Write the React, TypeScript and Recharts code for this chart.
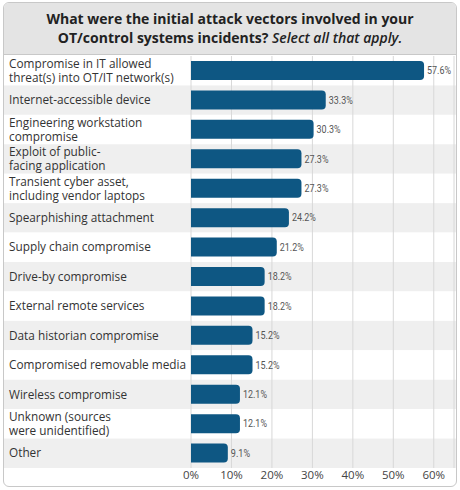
import { BarChart, Bar, XAxis, YAxis, CartesianGrid, ReferenceArea, LabelList } from "recharts";

const vectors = [
  "Compromise in IT allowed\nthreat(s) into OT/IT network(s)",
  "Internet-accessible device",
  "Engineering workstation\ncompromise",
  "Exploit of public-\nfacing application",
  "Transient cyber asset,\nincluding vendor laptops",
  "Spearphishing attachment",
  "Supply chain compromise",
  "Drive-by compromise",
  "External remote services",
  "Data historian compromise",
  "Compromised removable media",
  "Wireless compromise",
  "Unknown (sources\nwere unidentified)",
  "Other",
];
const shares = [57.6, 33.3, 30.3, 27.3, 27.3, 24.2, 21.2, 18.2, 18.2, 15.2, 15.2, 12.1, 12.1, 9.1];
const xTicks = [0, 10, 20, 30, 40, 50, 60];

const data = vectors.map((name, i) => ({ name, value: shares[i] }));

const CHART_W = 452;
const LABEL_FONT = "'Open Sans', 'Noto Sans', sans-serif";

const VectorTick = (props: any) => {
  const { y, payload } = props;
  const lines = String(payload.value).split("\n");
  const start = -((lines.length - 1) * 14) / 2;
  return (
    <text x={5} y={y} textAnchor="start" fontFamily={LABEL_FONT} fontSize={11.8} fill="#333">
      {lines.map((l, i) => (
        <tspan key={i} x={5} y={y + start + i * 14} dy="0.35em">
          {l}
        </tspan>
      ))}
    </text>
  );
};

// condensed-looking value label
const ValueLabel = (props: any) => {
  const { x, y, width, height, value } = props;
  const txt = `${Number(value).toFixed(1)}%`;
  return (
    <text
      x={x + width + 3}
      y={y + height / 2}
      dy="0.35em"
      fontFamily="'Roboto', sans-serif"
      fontSize={11}
      fill="#555"
      textLength={txt.length * 4.8}
      lengthAdjust="spacingAndGlyphs"
    >
      {txt}
    </text>
  );
};

export default function App() {
  return (
    <div
      style={{
        position: "absolute",
        left: 3,
        top: 2,
        width: 454,
        height: 485,
        boxSizing: "border-box",
        border: "1px solid #c8c8c8",
        borderRadius: 6,
        overflow: "hidden",
        background: "#fff",
      }}
    >
      <div
        style={{
          height: 52,
          background: "#e4e4e4",
          borderBottom: "1px solid #c8c8c8",
          textAlign: "center",
          fontFamily: LABEL_FONT,
          fontSize: 14,
          lineHeight: "19px",
          color: "#222",
          fontWeight: 700,
          paddingTop: 6,
          boxSizing: "border-box",
        }}
      >
        What were the initial attack vectors involved in your
        <br />
        OT/control systems incidents? <span style={{ fontStyle: "italic", fontWeight: 600 }}>Select all that apply.</span>
      </div>
      <BarChart
        width={CHART_W}
        height={431}
        data={data}
        layout="vertical"
        margin={{ top: 1, right: 2, left: 0, bottom: 0 }}
        barCategoryGap={5}
      >
        {vectors.map((v, i) => (
          <ReferenceArea
            key={v}
            y1={v}
            y2={v}
            zIndex={-150}
            ifOverflow="visible"
            shape={(p: any) => (
              <rect x={0} y={p.y} width={CHART_W} height={p.height} fill={i % 2 === 1 ? "#efefef" : "#ffffff"} />
            )}
          />
        ))}
        <CartesianGrid horizontal={false} stroke="#d8d8d8" />
        <XAxis
          type="number"
          domain={[0, 65]}
          ticks={xTicks}
          tickFormatter={(v) => `${v}%`}
          axisLine={false}
          tickLine={false}
          tickSize={0}
          tickMargin={3}
          height={18}
          tick={{ fontFamily: LABEL_FONT, fontSize: 11.5, fill: "#444" }}
        />
        <YAxis
          type="category"
          dataKey="name"
          width={187}
          axisLine={false}
          tickLine={false}
          interval={0}
          tick={<VectorTick />}
        />
        <Bar dataKey="value" fill="#0e5783" radius={[0, 4, 4, 0]} isAnimationActive={false}>
          <LabelList dataKey="value" content={<ValueLabel />} />
        </Bar>
      </BarChart>
    </div>
  );
}
